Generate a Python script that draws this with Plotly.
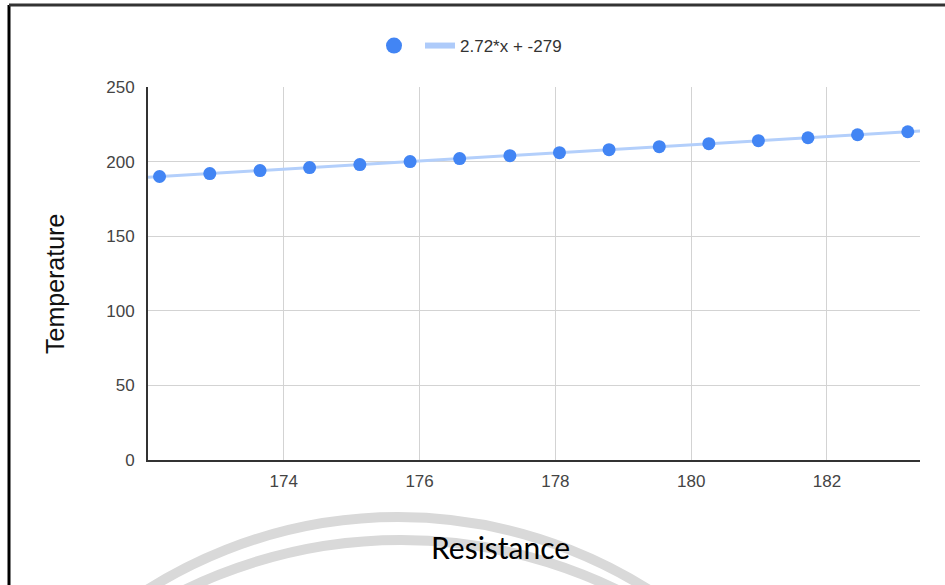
import numpy as np
import plotly.graph_objects as go

# Data
resistance = [172.17, 172.91, 173.65, 174.38, 175.12, 175.86, 176.59, 177.33,
              178.06, 178.79, 179.53, 180.26, 180.99, 181.72, 182.45, 183.19]
temperature = [190, 192, 194, 196, 198, 200, 202, 204,
               206, 208, 210, 212, 214, 216, 218, 220]
x_ticks = [174, 176, 178, 180, 182]
y_ticks = [0, 50, 100, 150, 200, 250]
x_range = [172.0, 183.37]
y_range = [0, 250]

# Linear trendline (fitted)
slope, intercept = np.polyfit(resistance, temperature, 1)
trend_x = np.array(x_range)
trend_y = slope * trend_x + intercept
trend_label = f"{slope:.2f}*x + {intercept:.0f}"

W, H = 945, 585
L, R, T, B = 148, 25, 87, 125
pw, ph = W - L - R, H - T - B

def px2paper(px, py):
    return (px - L) / pw, (H - B - py) / ph

fig = go.Figure()
fig.add_trace(go.Scatter(
    x=trend_x, y=trend_y, mode="lines",
    line=dict(color="#b3cffb", width=3),
    name=trend_label, showlegend=False, hoverinfo="skip"))
fig.add_trace(go.Scatter(
    x=resistance, y=temperature, mode="markers",
    marker=dict(color="#4285f4", size=13, line=dict(width=0)),
    name=" ", showlegend=False))
# legend entries
fig.add_trace(go.Scatter(x=[None], y=[None], mode="markers",
                         marker=dict(color="#4285f4", size=16), name=" ",
                         legend="legend"))
fig.add_trace(go.Scatter(x=[None], y=[None], mode="lines",
                         line=dict(color="#aecbfa", width=6), name=trend_label,
                         legend="legend2"))

shapes = []
# watermark arcs
for (cx, top, r) in [(398, 517, 468), (401, 540, 494)]:
    x0, y0 = px2paper(cx - r, top)
    x1, y1 = px2paper(cx + r, top + 2 * r)
    shapes.append(dict(type="circle", xref="paper", yref="paper",
                       x0=x0, x1=x1, y0=y0, y1=y1,
                       line=dict(color="#d9d9d9", width=10), layer="below"))
# frame lines
fx0, fy0 = px2paper(9, 5)
fx1, fy1 = px2paper(950, 590)
shapes.append(dict(type="line", xref="paper", yref="paper", x0=fx0, x1=fx0,
                   y0=fy0, y1=fy1, line=dict(color="#000000", width=3)))
shapes.append(dict(type="line", xref="paper", yref="paper", x0=fx0, x1=fx1,
                   y0=fy0, y1=fy0, line=dict(color="#333333", width=3)))

rx, ry = px2paper(500, 547)
tx, ty = px2paper(55, 284)
lg1x, lgy = px2paper(374, 46)
lg2x, _ = px2paper(420, 46)
fig.update_layout(
    width=W, height=H,
    margin=dict(l=L, r=R, t=T, b=B),
    paper_bgcolor="white", plot_bgcolor="white",
    font=dict(family="Liberation Sans, Arial", size=17, color="#444444"),
    shapes=shapes,
    legend=dict(orientation="h", x=lg1x, xanchor="left", y=lgy, yanchor="middle",
                font=dict(size=17, color="#333333"), bgcolor="rgba(0,0,0,0)",
                borderwidth=0),
    legend2=dict(orientation="h", x=lg2x, xanchor="left", y=lgy, yanchor="middle",
                 font=dict(size=17, color="#333333"), bgcolor="rgba(0,0,0,0)",
                 borderwidth=0),
    annotations=[
        dict(text="Resistance", xref="paper", yref="paper",
             x=rx, y=ry, xanchor="center", yanchor="middle", showarrow=False,
             font=dict(family="Lato", size=30, color="#000000")),
        dict(text="Temperature", xref="paper", yref="paper", textangle=-90,
             x=tx, y=ty, xanchor="center", yanchor="middle", showarrow=False,
             font=dict(family="Liberation Sans, Arial", size=25, color="#111111")),
    ],
    xaxis=dict(range=x_range, tickvals=x_ticks, showgrid=True,
               gridcolor="#d3d3d3", gridwidth=1, zeroline=False,
               showline=True, linecolor="#333333", linewidth=2,
               ticks="", ticklabelstandoff=5,
               tickfont=dict(size=17, color="#444444")),
    yaxis=dict(range=y_range, tickvals=y_ticks, showgrid=True,
               gridcolor="#d3d3d3", gridwidth=1, zeroline=False,
               showline=True, linecolor="#333333", linewidth=2,
               ticks="", ticklabelstandoff=8,
               tickfont=dict(size=17, color="#444444")),
)

fig.write_html("out.html", config={"displayModeBar": False},
               post_script="document.body.style.margin='0';document.body.style.overflow='hidden';")
